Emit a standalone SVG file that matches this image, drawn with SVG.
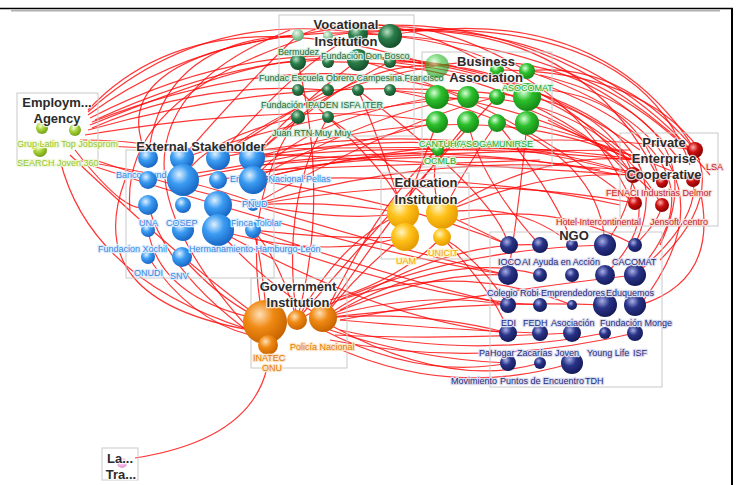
<svg xmlns="http://www.w3.org/2000/svg" width="738" height="485" viewBox="0 0 738 485">
<defs>
<style>
.e{fill:none;stroke:#ff0a0a;stroke-width:1.2;stroke-opacity:0.82}
.bx{fill:none;stroke:#c9c9c9;stroke-width:1}
.t{font-family:"Liberation Sans",Arial,sans-serif;font-size:9px;paint-order:stroke;stroke-width:2.4;stroke-linejoin:round}
.ttl{font-family:"Liberation Sans",Arial,sans-serif;font-weight:bold;font-size:13px;fill:#2b2b2b;text-anchor:middle;paint-order:stroke;stroke:#ffffff;stroke-width:2.5;stroke-opacity:0.75;stroke-linejoin:round}
.lV{fill:#1e6b3c;stroke:#d4ecdb}
.lB{fill:#2aa52a;stroke:#dcf5dc}
.lEA{fill:#9cc62e;stroke:#eff8d8}
.lES{fill:#3a88e0;stroke:#dcecff}
.lPE{fill:#c41c1c;stroke:#f8dcdc}
.lEI{fill:#f2a900;stroke:#fff1c8}
.lN{fill:#252c78;stroke:#dcdcf0}
.lG{fill:#e07c00;stroke:#fde4c8}
.nV{fill:url(#gV)}.nVl{fill:url(#gVl)}.nB{fill:url(#gB)}.nEA{fill:url(#gEA)}.nES{fill:url(#gES)}
.nPE{fill:url(#gPE)}.nEI{fill:url(#gEI)}.nN{fill:url(#gN)}.nG{fill:url(#gG)}.nLT{fill:url(#gLT)}
</style>
<radialGradient id="gV" cx="0.38" cy="0.33" r="0.68"><stop offset="0" stop-color="#b8e0c4"/><stop offset="0.45" stop-color="#2a7d4a"/><stop offset="1" stop-color="#144f2a"/></radialGradient>
<radialGradient id="gVl" cx="0.38" cy="0.33" r="0.68"><stop offset="0" stop-color="#eef8f0"/><stop offset="0.5" stop-color="#9ad0a8"/><stop offset="1" stop-color="#5fa876"/></radialGradient>
<radialGradient id="gB" cx="0.38" cy="0.33" r="0.68"><stop offset="0" stop-color="#d6ffd6"/><stop offset="0.45" stop-color="#2cc02c"/><stop offset="1" stop-color="#168a16"/></radialGradient>
<radialGradient id="gEA" cx="0.38" cy="0.33" r="0.68"><stop offset="0" stop-color="#f4ffd0"/><stop offset="0.45" stop-color="#a8d43a"/><stop offset="1" stop-color="#76a018"/></radialGradient>
<radialGradient id="gES" cx="0.38" cy="0.33" r="0.68"><stop offset="0" stop-color="#dff0ff"/><stop offset="0.45" stop-color="#3b9cf2"/><stop offset="1" stop-color="#1866c4"/></radialGradient>
<radialGradient id="gPE" cx="0.38" cy="0.33" r="0.68"><stop offset="0" stop-color="#ffb0b0"/><stop offset="0.45" stop-color="#cc1010"/><stop offset="1" stop-color="#8a0000"/></radialGradient>
<radialGradient id="gEI" cx="0.38" cy="0.33" r="0.68"><stop offset="0" stop-color="#fff4c0"/><stop offset="0.45" stop-color="#ffc21a"/><stop offset="1" stop-color="#e69a00"/></radialGradient>
<radialGradient id="gN" cx="0.38" cy="0.33" r="0.68"><stop offset="0" stop-color="#a8b0e8"/><stop offset="0.45" stop-color="#2a3488"/><stop offset="1" stop-color="#141a5a"/></radialGradient>
<radialGradient id="gG" cx="0.38" cy="0.33" r="0.68"><stop offset="0" stop-color="#ffe0b8"/><stop offset="0.45" stop-color="#f08a14"/><stop offset="1" stop-color="#c86400"/></radialGradient>
<radialGradient id="gLT" cx="0.4" cy="0.35" r="0.7"><stop offset="0" stop-color="#ffe0f4"/><stop offset="1" stop-color="#e070c8"/></radialGradient>
</defs>
<rect width="738" height="485" fill="#ffffff"/>
<g id="frame">
<line x1="0" y1="8.5" x2="733" y2="8.5" stroke="#000" stroke-width="1.6"/>
<line x1="11" y1="10.8" x2="720" y2="10.8" stroke="#b0b0b0" stroke-width="1.4"/>
<line x1="732" y1="8" x2="732" y2="485" stroke="#000" stroke-width="2"/>
</g>
<g id="connectors">
<path class="e" d="M88 112 Q200 10 360 33"/>
<path class="e" d="M88 115 Q220 20 390 35"/>
<path class="e" d="M90 118 Q260 30 435 66"/>
<path class="e" d="M92 122 Q300 40 468 97"/>
<path class="e" d="M95 120 Q400 -20 640 150"/>
<path class="e" d="M90 125 Q250 60 298 62"/>
<path class="e" d="M92 128 Q200 80 328 90"/>
<path class="e" d="M85 135 Q300 100 437 122"/>
<path class="e" d="M80 140 Q160 140 183 158"/>
<path class="e" d="M75 150 Q130 220 148 205"/>
<path class="e" d="M60 160 Q90 280 250 330"/>
<path class="e" d="M70 155 Q180 260 263 320"/>
<path class="e" d="M85 145 Q400 160 633 175"/>
<path class="e" d="M75 160 Q200 180 260 205"/>
<path class="e" d="M88 130 Q300 70 527 97"/>
<path class="e" d="M95 160 Q300 230 403 213"/>
<path class="e" d="M90 165 Q350 250 508 275"/>
<path class="e" d="M298 35 Q100 60 148 158"/>
<path class="e" d="M300 40 Q120 100 130 210"/>
<path class="e" d="M290 30 Q60 120 250 330"/>
<path class="e" d="M390 35 Q600 0 695 150"/>
<path class="e" d="M400 30 Q640 20 690 165"/>
<path class="e" d="M360 33 Q580 10 660 182"/>
<path class="e" d="M390 62 Q550 60 633 175"/>
<path class="e" d="M358 60 Q500 100 635 203"/>
<path class="e" d="M390 90 Q520 100 630 160"/>
<path class="e" d="M298 90 Q400 180 403 213"/>
<path class="e" d="M328 117 Q400 170 442 213"/>
<path class="e" d="M358 90 Q500 200 508 245"/>
<path class="e" d="M390 90 Q600 130 605 245"/>
<path class="e" d="M298 117 Q200 140 183 180"/>
<path class="e" d="M328 90 Q260 130 218 158"/>
<path class="e" d="M358 60 Q280 120 253 158"/>
<path class="e" d="M298 62 Q330 200 297 320"/>
<path class="e" d="M390 62 Q700 100 635 245"/>
<path class="e" d="M360 33 Q420 10 527 71"/>
<path class="e" d="M300 35 Q380 0 497 70"/>
<path class="e" d="M298 35 Q520 -10 690 150"/>
<path class="e" d="M328 36 Q560 0 700 160"/>
<path class="e" d="M298 62 Q500 40 640 165"/>
<path class="e" d="M328 62 Q520 60 650 190"/>
<path class="e" d="M358 34 Q600 40 710 175"/>
<path class="e" d="M390 36 Q560 50 633 203"/>
<path class="e" d="M437 66 Q580 40 680 160"/>
<path class="e" d="M468 97 Q600 100 662 205"/>
<path class="e" d="M497 70 Q640 70 700 150"/>
<path class="e" d="M548 120 Q640 170 690 160"/>
<path class="e" d="M527 71 Q620 60 695 150"/>
<path class="e" d="M548 90 Q640 100 660 182"/>
<path class="e" d="M527 97 Q610 110 633 175"/>
<path class="e" d="M527 123 Q600 140 693 180"/>
<path class="e" d="M540 75 Q720 120 660 245"/>
<path class="e" d="M545 85 Q740 160 635 275"/>
<path class="e" d="M527 71 Q760 150 640 305"/>
<path class="e" d="M530 110 Q700 180 605 275"/>
<path class="e" d="M497 123 Q560 200 572 245"/>
<path class="e" d="M468 122 Q480 180 540 245"/>
<path class="e" d="M437 122 Q420 170 403 213"/>
<path class="e" d="M437 150 Q430 190 442 213"/>
<path class="e" d="M437 97 Q300 120 253 180"/>
<path class="e" d="M435 66 Q300 90 218 158"/>
<path class="e" d="M468 97 Q320 110 183 158"/>
<path class="e" d="M437 122 Q300 160 148 180"/>
<path class="e" d="M468 122 Q380 230 323 318"/>
<path class="e" d="M497 97 Q400 200 297 320"/>
<path class="e" d="M527 123 Q520 200 508 275"/>
<path class="e" d="M435 66 Q200 -10 88 110"/>
<path class="e" d="M253 158 Q350 60 437 66"/>
<path class="e" d="M252 158 Q330 90 390 62"/>
<path class="e" d="M218 158 Q300 60 358 34"/>
<path class="e" d="M182 158 Q250 80 298 35"/>
<path class="e" d="M148 158 Q160 40 298 35"/>
<path class="e" d="M253 180 Q380 110 468 97"/>
<path class="e" d="M253 205 Q400 120 497 97"/>
<path class="e" d="M253 158 Q480 90 633 160"/>
<path class="e" d="M253 180 Q500 120 695 150"/>
<path class="e" d="M253 205 Q470 140 693 180"/>
<path class="e" d="M183 180 Q400 130 620 175"/>
<path class="e" d="M253 158 Q450 120 633 175"/>
<path class="e" d="M253 180 Q450 130 640 160"/>
<path class="e" d="M218 158 Q450 110 660 182"/>
<path class="e" d="M253 158 Q430 140 633 160"/>
<path class="e" d="M260 165 Q450 150 630 150"/>
<path class="e" d="M253 180 Q460 170 620 205"/>
<path class="e" d="M253 205 Q450 170 635 203"/>
<path class="e" d="M218 180 Q430 140 600 170"/>
<path class="e" d="M240 150 Q420 145 560 150"/>
<path class="e" d="M255 170 Q400 165 540 160"/>
<path class="e" d="M253 205 Q330 200 403 213"/>
<path class="e" d="M253 230 Q340 240 405 237"/>
<path class="e" d="M218 230 Q320 260 403 237"/>
<path class="e" d="M253 230 Q400 280 508 305"/>
<path class="e" d="M253 205 Q400 250 508 275"/>
<path class="e" d="M218 230 Q380 320 508 333"/>
<path class="e" d="M253 180 Q400 200 509 245"/>
<path class="e" d="M260 240 Q430 300 540 305"/>
<path class="e" d="M148 230 Q160 300 263 320"/>
<path class="e" d="M148 257 Q190 320 250 335"/>
<path class="e" d="M182 257 Q220 300 263 320"/>
<path class="e" d="M253 230 Q280 260 297 320"/>
<path class="e" d="M218 230 Q260 280 323 318"/>
<path class="e" d="M148 205 Q170 280 268 345"/>
<path class="e" d="M265 300 Q260 250 253 230"/>
<path class="e" d="M323 318 Q420 290 508 305"/>
<path class="e" d="M323 318 Q420 310 508 333"/>
<path class="e" d="M330 330 Q420 360 508 363"/>
<path class="e" d="M323 318 Q430 270 508 275"/>
<path class="e" d="M330 325 Q450 390 540 363"/>
<path class="e" d="M323 330 Q420 380 508 363"/>
<path class="e" d="M340 310 Q450 250 540 275"/>
<path class="e" d="M297 320 Q430 250 605 245"/>
<path class="e" d="M340 320 Q450 330 540 333"/>
<path class="e" d="M335 335 Q440 340 572 333"/>
<path class="e" d="M340 300 Q460 260 572 305"/>
<path class="e" d="M330 345 Q450 400 572 363"/>
<path class="e" d="M323 318 Q440 240 540 245"/>
<path class="e" d="M323 318 Q480 300 605 305"/>
<path class="e" d="M340 330 Q470 360 605 333"/>
<path class="e" d="M340 320 Q500 290 635 275"/>
<path class="e" d="M330 340 Q480 370 635 333"/>
<path class="e" d="M323 318 Q360 270 403 237"/>
<path class="e" d="M297 320 Q340 240 403 213"/>
<path class="e" d="M330 300 Q400 280 442 237"/>
<path class="e" d="M263 320 Q240 200 298 117"/>
<path class="e" d="M297 320 Q280 200 328 117"/>
<path class="e" d="M323 318 Q380 200 437 150"/>
<path class="e" d="M403 213 Q380 140 358 90"/>
<path class="e" d="M442 213 Q470 160 497 123"/>
<path class="e" d="M442 213 Q480 230 508 245"/>
<path class="e" d="M442 237 Q480 260 508 305"/>
<path class="e" d="M442 213 Q520 200 572 245"/>
<path class="e" d="M442 237 Q500 300 508 333"/>
<path class="e" d="M460 220 Q550 200 635 245"/>
<path class="e" d="M442 213 Q540 170 633 175"/>
<path class="e" d="M442 213 Q540 150 640 160"/>
<path class="e" d="M635 245 Q660 220 662 205"/>
<path class="e" d="M605 245 Q630 210 633 175"/>
<path class="e" d="M635 275 Q700 220 693 180"/>
<path class="e" d="M660 260 Q720 200 695 150"/>
<path class="e" d="M700 190 Q720 280 640 305"/>
<path class="e" d="M125 180 Q80 300 250 330"/>
<path class="e" d="M267 368 Q250 440 135 458"/>
</g>
<g id="vocational">
<rect class="bx" x="279" y="15" width="135" height="121"/>
<circle class="nVl" cx="298" cy="35" r="6"/><circle class="nVl" cx="328" cy="36" r="5"/>
<circle class="nV" cx="358" cy="34" r="10"/><circle class="nV" cx="390" cy="36" r="12"/>
<circle class="nV" cx="298" cy="62" r="8"/><circle class="nV" cx="328" cy="62" r="6"/>
<circle class="nV" cx="358" cy="60" r="11"/><circle class="nV" cx="390" cy="62" r="6"/>
<circle class="nV" cx="298" cy="90" r="6"/><circle class="nV" cx="328" cy="90" r="6"/>
<circle class="nV" cx="358" cy="90" r="6"/><circle class="nV" cx="390" cy="90" r="6"/>
<circle class="nV" cx="298" cy="117" r="7"/><circle class="nV" cx="328" cy="117" r="6"/>
<text class="t lV" x="278" y="55">Bermudez</text>
<text class="t lV" x="321" y="59">Fundación Don Bosco</text>
<text class="t lV" x="259" y="81">Fundac Escuela Obrero Campesina Francisco</text>
<text class="t lV" x="261" y="108">Fundación IPADEN ISFA ITER</text>
<text class="t lV" x="272" y="136">Juan RTN Muy Muy</text>
<text class="ttl" x="346" y="29">Vocational</text>
<text class="ttl" x="346" y="46">Institution</text>
</g>
<g id="business">
<rect class="bx" x="422" y="52" width="130" height="115"/>
<circle class="nB" cx="437" cy="66" r="12" opacity="0.6"/>
<circle class="nB" cx="497" cy="70" r="7"/><circle class="nB" cx="527" cy="71" r="8"/>
<circle class="nB" cx="437" cy="97" r="12"/><circle class="nB" cx="468" cy="97" r="11"/>
<circle class="nB" cx="497" cy="97" r="8"/><circle class="nB" cx="527" cy="97" r="14"/>
<circle class="nB" cx="437" cy="122" r="11"/><circle class="nB" cx="468" cy="122" r="11"/>
<circle class="nB" cx="497" cy="123" r="9"/><circle class="nB" cx="527" cy="123" r="12"/>
<circle class="nB" cx="438" cy="150" r="6"/>
<text class="t lB" x="502" y="91">ASOCOMAT</text>
<text class="t lB" x="419" y="147">CANTUHO</text>
<text class="t lB" x="460" y="147">ASOGAM</text>
<text class="t lB" x="499" y="147">UNIRSE</text>
<text class="t lB" x="424" y="164">OCMLB</text>
<text class="ttl" x="486" y="66">Business</text>
<text class="ttl" x="486" y="82">Association</text>
</g>
<g id="employment">
<rect class="bx" x="17" y="93" width="81" height="72"/>
<circle class="nEA" cx="42" cy="128" r="6"/><circle class="nEA" cx="75" cy="130" r="6"/>
<circle class="nEA" cx="40" cy="150" r="7"/>
<text class="t lEA" x="17" y="147" font-size="10">Grup Latin Top Jobsprom</text>
<text class="t lEA" x="17" y="166" font-size="10">SEARCH Joven 360</text>
<text class="ttl" x="57" y="107">Employm...</text>
<text class="ttl" x="57" y="123">Agency</text>
</g>
<g id="external">
<rect class="bx" x="126" y="150" width="148" height="128"/>
<text class="t lES" x="116" y="178">Banco Mund</text>
<text class="t lES" x="230" y="182">Empresa Nacional Pellas</text>
<circle class="nES" cx="148" cy="158" r="10"/><circle class="nES" cx="182" cy="158" r="12"/>
<circle class="nES" cx="218" cy="158" r="12"/><circle class="nES" cx="252" cy="158" r="13"/>
<circle class="nES" cx="148" cy="180" r="9"/><circle class="nES" cx="183" cy="180" r="16"/>
<circle class="nES" cx="218" cy="180" r="9"/><circle class="nES" cx="253" cy="180" r="14"/>
<circle class="nES" cx="148" cy="205" r="10"/><circle class="nES" cx="183" cy="205" r="8"/>
<circle class="nES" cx="218" cy="205" r="14"/><circle class="nES" cx="253" cy="205" r="6"/>
<circle class="nES" cx="148" cy="230" r="7"/><circle class="nES" cx="183" cy="230" r="11"/>
<circle class="nES" cx="218" cy="230" r="16"/><circle class="nES" cx="253" cy="230" r="8"/>
<circle class="nES" cx="148" cy="257" r="7"/><circle class="nES" cx="182" cy="257" r="10"/>
<text class="t lES" x="242" y="207">PNUD</text>
<text class="t lES" x="139" y="226">UNA</text>
<text class="t lES" x="166" y="226">COSEP</text>
<text class="t lES" x="231" y="226">Finca Tololar</text>
<text class="t lES" x="98" y="252">Fundacion Xochil</text>
<text class="t lES" x="189" y="252">Hermanamiento Hamburgo-León</text>
<text class="t lES" x="134" y="276">ONUDI</text>
<text class="t lES" x="170" y="279">SNV</text>
<text class="ttl" x="201" y="151">External Stakeholder</text>
</g>
<g id="private">
<rect class="bx" x="620" y="133" width="98" height="93"/>
<circle class="nPE" cx="695" cy="150" r="8"/><circle class="nPE" cx="633" cy="175" r="8"/>
<circle class="nPE" cx="693" cy="180" r="7"/><circle class="nPE" cx="662" cy="182" r="6"/>
<circle class="nPE" cx="635" cy="203" r="7"/><circle class="nPE" cx="662" cy="205" r="7"/>
<text class="t lPE" x="706" y="170">LSA</text>
<text class="t lPE" x="606" y="196">FENACI</text>
<text class="t lPE" x="641" y="196">Industrias Delmor</text>
<text class="t lPE" x="556" y="225">Hotel Intercontinental</text>
<text class="t lPE" x="650" y="225">Jensoft</text>
<text class="t lPE" x="683" y="225">centro</text>
<text class="ttl" x="664" y="147">Private</text>
<text class="ttl" x="664" y="163">Enterprise</text>
<text class="ttl" x="664" y="179">Cooperative</text>
</g>
<g id="education">
<rect class="bx" x="381" y="173" width="88" height="86"/>
<circle class="nEI" cx="403" cy="213" r="16"/><circle class="nEI" cx="442" cy="213" r="16"/>
<circle class="nEI" cx="405" cy="237" r="14"/><circle class="nEI" cx="442" cy="237" r="9"/>
<text class="t lEI" x="396" y="264">UAM</text>
<text class="t lEI" x="428" y="256">UNICIT</text>
<text class="ttl" x="426" y="187">Education</text>
<text class="ttl" x="426" y="204">Institution</text>
</g>
<g id="ngo">
<rect class="bx" x="490" y="232" width="172" height="155"/>
<circle class="nN" cx="509" cy="245" r="9"/><circle class="nN" cx="540" cy="245" r="8"/>
<circle class="nN" cx="572" cy="245" r="6"/><circle class="nN" cx="605" cy="245" r="11"/>
<circle class="nN" cx="635" cy="245" r="7"/>
<circle class="nN" cx="508" cy="275" r="10"/><circle class="nN" cx="540" cy="275" r="7"/>
<circle class="nN" cx="572" cy="275" r="7"/><circle class="nN" cx="605" cy="275" r="10"/>
<circle class="nN" cx="635" cy="275" r="11"/>
<circle class="nN" cx="508" cy="305" r="8"/><circle class="nN" cx="540" cy="305" r="7"/>
<circle class="nN" cx="572" cy="305" r="5"/><circle class="nN" cx="605" cy="305" r="12"/>
<circle class="nN" cx="635" cy="305" r="11"/>
<circle class="nN" cx="508" cy="333" r="9"/><circle class="nN" cx="540" cy="333" r="8"/>
<circle class="nN" cx="572" cy="333" r="9"/><circle class="nN" cx="605" cy="333" r="6"/>
<circle class="nN" cx="635" cy="333" r="8"/>
<circle class="nN" cx="508" cy="363" r="8"/><circle class="nN" cx="540" cy="363" r="6"/>
<circle class="nN" cx="572" cy="363" r="11"/>
<text class="t lN" x="498" y="265">IOCO</text>
<text class="t lN" x="522" y="265">AI</text>
<text class="t lN" x="533" y="265">Ayuda en Acción</text>
<text class="t lN" x="612" y="265">CACOMAT</text>
<text class="t lN" x="487" y="296">Colegio Robi</text>
<text class="t lN" x="541" y="296">Emprendedores</text>
<text class="t lN" x="606" y="296">Eduquemos</text>
<text class="t lN" x="501" y="326">EDI</text>
<text class="t lN" x="523" y="326">FEDH</text>
<text class="t lN" x="551" y="326">Asociación</text>
<text class="t lN" x="600" y="326">Fundación Monge</text>
<text class="t lN" x="479" y="356">Pa</text>
<text class="t lN" x="490" y="356">Hogar Zacarías</text>
<text class="t lN" x="555" y="356">Joven</text>
<text class="t lN" x="587" y="356">Young Life</text>
<text class="t lN" x="633" y="356">ISF</text>
<text class="t lN" x="451" y="384">Movimiento</text>
<text class="t lN" x="500" y="384">Puntos de Encuentro</text>
<text class="t lN" x="585" y="384">TDH</text>
<text class="ttl" x="574" y="240">NGO</text>
</g>
<g id="government">
<rect class="bx" x="251" y="278" width="96" height="90"/>
<circle class="nG" cx="265" cy="322" r="22"/><circle class="nG" cx="297" cy="320" r="10"/>
<circle class="nG" cx="323" cy="318" r="14"/><circle class="nG" cx="268" cy="345" r="10"/>
<text class="t lG" x="290" y="350">Policía Nacional</text>
<text class="t lG" x="253" y="361">INATEC</text>
<text class="t lG" x="262" y="371">ONU</text>
<text class="ttl" x="298" y="291">Government</text>
<text class="ttl" x="298" y="307">Institution</text>
</g>
<g id="labour">
<rect class="bx" x="102" y="448" width="36" height="32"/>
<circle class="nLT" cx="122" cy="463" r="5" opacity="0.8"/>
<text class="ttl" x="120" y="463">La...</text>
<text class="ttl" x="121" y="479">Tra...</text>
</g>
</svg>
